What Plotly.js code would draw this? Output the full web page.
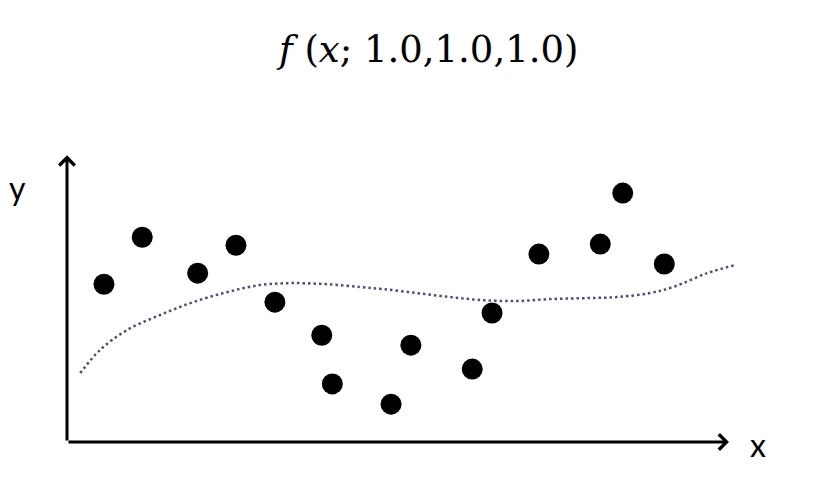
<!DOCTYPE html>
<html>
<head>
<meta charset="utf-8">
<script src="https://cdn.plot.ly/plotly-3.0.1.min.js"></script>
<style>html,body{margin:0;padding:0;background:#fff;}#chart{width:815px;height:481px;}</style>
</head>
<body>
<div id="chart"></div>
<script>
// Observed data points
const pointX = [0.56, 1.14, 1.98, 2.56, 3.15, 3.86, 4.02, 4.91, 5.21, 6.14, 6.44, 7.15, 8.08, 8.42, 9.05];
const pointY = [5.54, 7.19, 5.93, 6.91, 4.91, 3.75, 2.04, 1.33, 3.40, 2.56, 4.53, 6.60, 6.95, 8.74, 6.25];

// Fitted curve f(x; 1.0,1.0,1.0)
const curveX = [0.20, 0.50, 0.91, 1.41, 1.91, 2.42, 2.92, 3.42, 3.94, 4.44, 4.79, 5.30, 5.80, 6.30, 6.82, 7.32, 7.82, 8.33, 8.83, 9.18, 9.70, 10.12];
const curveY = [2.42, 3.23, 3.93, 4.46, 4.91, 5.26, 5.51, 5.58, 5.54, 5.44, 5.37, 5.23, 5.09, 4.98, 4.95, 5.02, 5.05, 5.09, 5.23, 5.44, 5.93, 6.21];

// Axis extents and labels
const axisEndX = 10.03;
const axisEndY = 10.07;
const titleText = '<i>f</i> (<i>x</i>; 1.0,1.0,1.0)';
const xLabel = 'x';
const yLabel = 'y';

const traces = [
  {
    x: curveX, y: curveY, type: 'scatter', mode: 'lines',
    line: {color: '#4b4f72', width: 2.5, dash: '2.5px,3px', shape: 'spline', smoothing: 1},
    hoverinfo: 'skip', cliponaxis: false
  },
  {
    x: pointX, y: pointY, type: 'scatter', mode: 'markers',
    marker: {color: '#000000', size: 21},
    cliponaxis: false
  }
];

const layout = {
  width: 815, height: 481,
  margin: {l: 67, r: 22, t: 143, b: 39},
  paper_bgcolor: '#ffffff', plot_bgcolor: '#ffffff',
  showlegend: false,
  title: {
    text: titleText,
    font: {family: 'DejaVu Serif, Liberation Serif, serif', size: 37, color: '#000'},
    x: 0.526, xref: 'container', xanchor: 'center',
    y: 0.898, yref: 'container', yanchor: 'middle'
  },
  xaxis: {range: [0, 11], showgrid: false, zeroline: false, showline: false, showticklabels: false, ticks: ''},
  yaxis: {range: [0, 10.5], showgrid: false, zeroline: false, showline: false, showticklabels: false, ticks: ''},
  annotations: [
    {x: axisEndX, y: 0, ax: 0, ay: 0, xref: 'x', yref: 'y', axref: 'x', ayref: 'y',
     showarrow: true, arrowhead: 4, arrowsize: 1, arrowwidth: 3, arrowcolor: '#000', text: '', standoff: 0},
    {x: 0, y: axisEndY, ax: 0, ay: 0, xref: 'x', yref: 'y', axref: 'x', ayref: 'y',
     showarrow: true, arrowhead: 4, arrowsize: 1, arrowwidth: 3, arrowcolor: '#000', text: '', standoff: 0},
    {x: -0.0675, y: 0.852, xref: 'paper', yref: 'paper', text: yLabel, showarrow: false,
     font: {family: 'Lato, Open Sans, sans-serif', size: 32, color: '#000'}, xanchor: 'center', yanchor: 'middle'},
    {x: 0.952, y: -0.01, xref: 'paper', yref: 'paper', text: xLabel, showarrow: false,
     font: {family: 'Lato, Open Sans, sans-serif', size: 32, color: '#000'}, xanchor: 'center', yanchor: 'middle'}
  ]
};

Plotly.newPlot('chart', traces, layout, {staticPlot: true, displayModeBar: false});
</script>
</body>
</html>
